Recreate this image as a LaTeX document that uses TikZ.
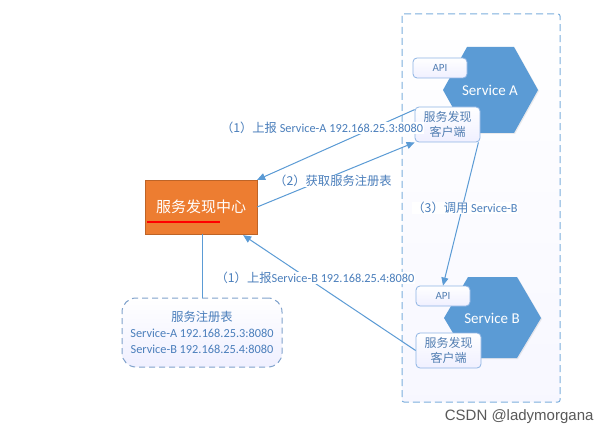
\documentclass[tikz,border=0pt]{standalone}
\usepackage{fontspec}
\setmainfont{Carlito}
\newfontfamily\cjk{Noto Sans CJK SC}
\newfontfamily\wmfont{Liberation Sans}
\usetikzlibrary{arrows.meta,calc,shadows}
\definecolor{lineblue}{HTML}{5B9BD5}
\definecolor{textblue}{HTML}{4A7EBB}
\definecolor{hexblue}{HTML}{5B9BD5}
\definecolor{borderblue}{HTML}{8EB4E3}
\definecolor{hub}{HTML}{ED7D31}
\tikzset{
  conn/.style={draw=lineblue, line width=1pt},
  arr/.style={conn, -{Triangle[length=8pt,width=7pt]}},
  lbl/.style={fill=white, inner sep=0.5pt, text=textblue, font=\fontsize{12.3}{14}\selectfont},
  smallbox/.style={draw=borderblue, line width=0.8pt, rounded corners=4pt, top color=white, bottom color=blue!6, text=textblue!85!gray},
  hexshape/.style={fill=hexblue, draw=none, drop shadow={opacity=0.15, shadow xshift=1pt, shadow yshift=-1pt}},
  hextext/.style={text=white, font=\fontsize{15}{17}\selectfont},
}
\begin{document}
\begin{tikzpicture}[x=1pt,y=-1pt]
\useasboundingbox (0,0) rectangle (612,435);
\fill[white] (0,0) rectangle (612,435);

% container
\draw[draw=lineblue!80, dashed, dash pattern=on 7pt off 4pt, line width=1pt, rounded corners=2pt, top color=white, bottom color=blue!3]
  (402,14) rectangle (560,402);

% hexagons
\path[hexshape] (467,47) -- (514,47) -- (538,90) -- (514,133) -- (467,133) -- (443,90) -- cycle;
\node[hextext] (svcA) at (490,90) {Service A};
\path[hexshape] (468,277) -- (517,277) -- (541,318) -- (517,358) -- (468,358) -- (444,318) -- cycle;
\node[hextext] (svcB) at (492,318) {Service B};

% small boxes
\node[smallbox, minimum width=54pt, minimum height=20pt, font=\fontsize{11}{12}\selectfont] (apiA) at (440,68) {API};
\node[smallbox, minimum width=65pt, minimum height=35pt, align=center, inner sep=1pt, font=\cjk\fontsize{12}{15}\selectfont] (clientA) at (447.5,124.5) {服务发现\\客户端};
\node[smallbox, minimum width=54pt, minimum height=20pt, font=\fontsize{11}{12}\selectfont] (apiB) at (443,296) {API};
\node[smallbox, minimum width=65pt, minimum height=35pt, align=center, inner sep=1pt, font=\cjk\fontsize{12}{15}\selectfont] (clientB) at (448.5,350.5) {服务发现\\客户端};

% hub
\node[fill=hub, draw=hub!80!black, line width=0.3pt, minimum width=112pt, minimum height=54pt, text=white, font=\cjk\fontsize{15}{17}\selectfont, drop shadow={opacity=0.2, shadow xshift=1pt, shadow yshift=-1pt}] (hub) at (201,207) {服务发现中心};
\draw[red, line width=2pt] (147,222) -- (220,222);

% registry
\node[draw=borderblue!90!black, dashed, dash pattern=on 6pt off 4pt, line width=1pt, rounded corners=14pt, top color=white, bottom color=blue!6, minimum width=160pt, minimum height=69pt, align=center, text=textblue, inner sep=2pt, font=\fontsize{12.3}{16}\selectfont] (reg) at (202,332.5)
  {{\cjk 服务注册表}\\Service-A 192.168.25.3:8080\\Service-B 192.168.25.4:8080};

\draw[conn] (hub.south -| reg.north) -- (reg.north);

% connectors
\draw[arr] ($(clientA.north west)+(0,3)$) -- (hub.north east);
\draw[arr] (hub.east) -- (clientA.south west);
\draw[arr] ($(clientA.south east)+(-2,0)$) -- (apiB.north);
\draw[arr] (clientB.west) -- ($(hub.south east)+(-14,1)$);

% connector labels
\node[lbl] (l1) at (322,128) {{\cjk （1）上报} Service-A 192.168.25.3:8080};
\node[lbl] (l2) at (333,181) {\cjk （2）获取服务注册表};
\node[lbl] (l3) at (465,208) {{\cjk （3）调用} Service-B};
\node[lbl] (l4) at (315,278) {{\cjk （1）上报}Service-B 192.168.25.4:8080};

% watermark
\node[text=black!65, font=\wmfont\fontsize{15}{17}\selectfont, anchor=east] (wm) at (597,417) {CSDN @ladymorgana};
\end{tikzpicture}
\end{document}
